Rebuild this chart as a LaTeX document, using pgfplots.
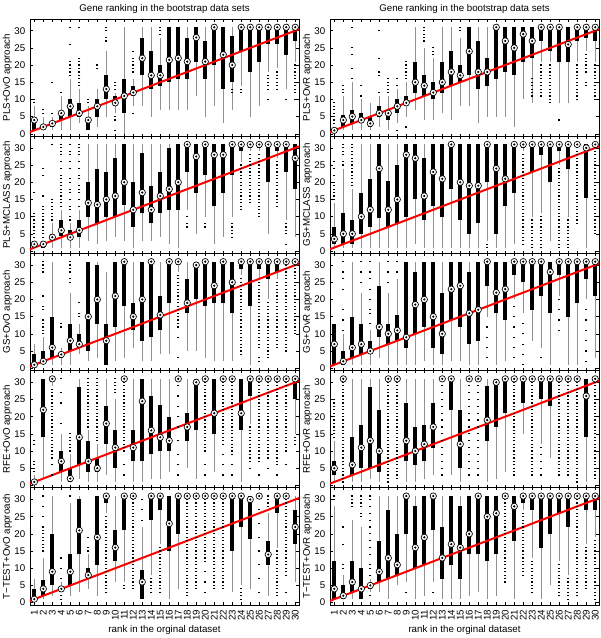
\documentclass[border=0pt]{standalone}
\usepackage{fontspec}
\setmainfont{Liberation Sans}
\usepackage{pgfplots}
\usepackage{pgfplotstable}
\pgfplotsset{compat=1.18}
\definecolor{whisk}{RGB}{145,145,145}
\newcommand\fs{\fontsize{7.3}{8.5}\selectfont}

% columns: x lw q1 med q3 uw
\pgfplotstableread{
x lw q1 med q3 uw
1 1 1 4 4 8
2 1 1.5 2 2.5 5
3 1 2 3 3.5 5
4 1 4 6 6.5 11
5 1 5 8 10 16
6 3 5 6 9 13
7 1 1 4 4.5 8
8 2 5 8 10 13
9 5 10 13 17 24
10 6 8 9 11 12
11 0 6 11 16 31
12 8 11 12 14 16
13 8 17 22 28 31
14 5 13 17 24 31
15 7 14 17 20 28
16 7 15 21.5 31 31
17 7 16 22 31 31
18 7 16 21 28 31
19 11 21 28 31 31
20 5 16 21 27 31
21 8 20 31 31 31
22 3 13 23 31 31
23 7 15 20 28.5 31
24 14 24 31 31 31
25 5 18 31 31 31
26 8 21 31 31 31
27 18 26 31 31 31
28 19 26 31 31 31
29 13 23 31 31 31
30 21 27 31 31 31
}\tA
\pgfplotstableread{
x lw q1 med q3 uw
1 1 1 2 3 3
2 1 1 2 3 3
3 1 3 4 5 8
4 1 4.5 6 9 12
5 1 3.5 4 6 8
6 1 4 6 9 12
7 3 10 14 20 31
8 2 8 13.5 24 31
9 3 10 15 23 31
10 4 10 16 27 31
11 3 13.5 20 31 31
12 1 7 12 20 31
13 3 11 17 28.5 31
14 3 8 12 19 31
15 4 11 16 23 31
16 2 12 18 30 31
17 1 12 20 31 31
18 12 23 31 31 31
19 5 17 27.5 31 31
20 10 22 31 31 31
21 2 13 28 31 31
22 4 17 28 31 31
23 10 22 31 31 31
24 26 29 31 31 31
25 29 30 31 31 31
26 29 30 31 31 31
27 5 20 31 31 31
28 27 29 31 31 31
29 9 23 31 31 31
30 4 18 27 31 31
}\tB
\pgfplotstableread{
x lw q1 med q3 uw
1 1 1 1 4 7
2 1 2 2 5 9
3 1 3 6 15 31
4 1 3 4 4.5 6
5 1 5 8 13 22
6 4 6 7 10 13
7 2 5 15 31 31
8 3 13 20 30 31
9 1 1 8 13 28
10 2 12 21 31 31
11 3 18 31 31 31
12 6 11 15 19 31
13 2 8 20 31 31
14 2 9 31 31 31
15 4 11 15.5 21 31
16 4 19 31 31 31
17 28 30 31 31 31
18 5 16 19 26 31
19 5 20 30 31 31
20 3 18 31 31 31
21 2 19 24 31 31
22 2 19 31 31 31
23 2 16 25 31 31
24 27 29 31 31 31
25 1 18 31 31 31
26 26 29 31 31 31
27 20 26 31 31 31
28 26 28 31 31 31
29 31 31 31 31 31
30 31 31 31 31 31
}\tC
\pgfplotstableread{
x lw q1 med q3 uw
1 0 0.5 1 1.5 3
2 2 14 22 31 31
3 29 30 31 31 31
4 1 4 7 10 15
5 1 1 2 5 9
6 2 6 14 28.5 31
7 1 4 7 13 16
8 1 4 5 8 12
9 3 12 18 23 31
10 1 5 11 16 25
11 31 31 31 31 31
12 1 7 11 16 31
13 1 7 24.5 31 31
14 2 9 16 26 31
15 2 10 14 23.5 31
16 4 10 13 20 31
17 31 31 31 31 31
18 5 13 17 21 31
19 2 16 30 31 31
20 31 31 31 31 31
21 4 15 21 31 31
22 31 31 31 31 31
23 31 31 31 31 31
24 1 16 21 31 31
25 18 26 31 31 31
26 31 31 31 31 31
27 31 31 31 31 31
28 31 31 31 31 31
29 31 31 31 31 31
30 15 25 31 31 31
}\tD
\pgfplotstableread{
x lw q1 med q3 uw
1 1 1 1 1.5 2
2 1 2 4 5.5 11
3 1 3 5 7 15
4 1 3 4 6 10
5 1 2 3 5 9
6 2 5 6 8 11
7 1 4 6 7 11
8 3 6 8 10 13
9 5 8 9 11 15
10 7 12 15 21 31
11 4 11 14 17 25
12 4 10 12 15 22
13 6 12 15 21 31
14 4 14 18 24 31
15 8 15 17 20 28
16 8 17 24 31 31
17 3 13 18 27 31
18 5 14 18 22 31
19 5 16 31 31 31
20 5 18 27 31 31
21 2 17 25 31 31
22 10 21 29 31 31
23 9 22 27 31 31
24 21 27 31 31 31
25 21 24 31 31 31
26 9 21 31 31 31
27 9 21 26 31 31
28 21 27 31 31 31
29 24 28 31 31 31
30 21 27 31 31 31
}\tE
\pgfplotstableread{
x lw q1 med q3 uw
1 1 2 3.5 7 14
2 1 2 5 11 24
3 1 2 5 9 18
4 1 5 10 17 31
5 1 7 12 21 31
6 1 9.5 24 31 31
7 1 7 12 20.5 31
8 1 8 15 25 31
9 1 10 28 31 31
10 2 15 27 31 31
11 1 9 16 27 31
12 1 13 23 31 31
13 1 10 21 31 31
14 1 18 31 31 31
15 1 9 20 31 31
16 1 5 19 31 31
17 1 8 19 31 31
18 3 20 31 31 31
19 1 5 24 31 31
20 1 13 21 31 31
21 2 17 31 31 31
22 29 30 31 31 31
23 10 23 31 31 31
24 11 28 31 31 31
25 3 20 31 31 31
26 25 29 31 31 31
27 10 24 31 31 31
28 31 31 31 31 31
29 1 15.5 30 31 31
30 31 31 31 31 31
}\tF
\pgfplotstableread{
x lw q1 med q3 uw
1 1 1 7 13 13
2 1 1 2 5 10
3 1 3 6 15 31
4 1 4 7 13 22
5 1 4 5 8 11
6 3 9 12 24 31
7 1 7 10 13 22
8 1 8 11 15.5 26
9 1 6 9 31 31
10 1 10 18.5 28 31
11 2 12 20 31 31
12 1 6 15 31 31
13 1 4 10 22 31
14 2 14 23 31 31
15 2 12 24 31 31
16 1 7 16 28 31
17 1 8 17 31 31
18 15 24 31 31 31
19 1 16 22 31 31
20 2 14 23 31 31
21 20 27 31 31 31
22 16 25 31 31 31
23 8 17 31 31 31
24 6 21 31 31 31
25 1 16 28 31 31
26 21 27 31 31 31
27 1 15 31 31 31
28 1 19 31 31 31
29 20 26 31 31 31
30 3 21 31 31 31
}\tG
\pgfplotstableread{
x lw q1 med q3 uw
1 1 3 5 7 13
2 31 31 31 31 31
3 1 3 6 14 31
4 1 5 11 17.5 31
5 2 5 13 28.5 31
6 1 4 10 22 31
7 31 31 31 31 31
8 31 31 31 31 31
9 1 7 13 24 31
10 1 6 10 17 31
11 2 7 12 17.5 31
12 3 11 17 24 31
13 31 31 31 31 31
14 3 22 31 31 31
15 1 5 12 22 31
16 31 31 31 31 31
17 31 31 31 31 31
18 1 13 19 29 31
19 2 17 30 31 31
20 4 21 31 31 31
21 31 31 31 31 31
22 15 24 31 31 31
23 31 31 31 31 31
24 12 25 31 31 31
25 8 23 31 31 31
26 31 31 31 31 31
27 31 31 31 31 31
28 31 31 31 31 31
29 1 14 26 31 31
30 31 31 31 31 31
}\tH
\pgfplotstableread{
x lw q1 med q3 uw
1 1 1 1 4 7
2 1 2 4 6.5 13
3 2 5 9 20 31
4 3 3 4 4.5 6
5 2 5 9 14 29
6 3 14 21 30 31
7 4 7 8 10 14
8 2 11 19 31 31
9 26 29 31 31 31
10 6 12 16 21 31
11 6 21 31 31 31
12 31 31 31 31 31
13 1 1 6 9.5 22
14 8 24 31 31 31
15 17 27 31 31 31
16 1 15 23 31 31
17 4 20 31 31 31
18 31 31 31 31 31
19 31 31 31 31 31
20 31 31 31 31 31
21 31 31 31 31 31
22 31 31 31 31 31
23 3 15 31 31 31
24 5 22 31 31 31
25 4 18.5 30 31 31
26 31 31 31 31 31
27 2 11 14 18 26
28 16 26 31 31 31
29 31 31 31 31 31
30 6 17 22 27 31
}\tI
\pgfplotstableread{
x lw q1 med q3 uw
1 1 1 4 12 28
2 1 1 2 5 8
3 1 3 6 12 24
4 1 1 4 10 22
5 3 4 5 5.5 7
6 3 6 9 18 31
7 1 7 13 27 31
8 5 8 11 20 31
9 6 20 31 31 31
10 1 10 16 28 31
11 2 11 19 31 31
12 6 21 31 31 31
13 1 7 13 22 31
14 1 11 17 31 31
15 1 7 16 28 31
16 2 14 20 31 31
17 3 14 31 31 31
18 1 12 25 31 31
19 2 14 26 31 31
20 31 31 31 31 31
21 1 18 28 31 31
22 27 29 31 31 31
23 13 27 31 31 31
24 1 16 31 31 31
25 5 20 31 31 31
26 12 26 31 31 31
27 8 22 31 31 31
28 31 31 31 31 31
29 17 27 31 31 31
30 19 27 31 31 31
}\tJ

\pgfplotsset{
  panel/.style={
    scale only axis, width=201.75pt, height=87.9pt,
    xmin=0.52, xmax=30.42, ymin=-0.7, ymax=33.4,
    xtick={1,...,30}, ytick={0,5,...,30},
    tick align=inside, major tick length=2pt,
    tick style={black, line width=0.4pt},
    axis line style={line width=0.6pt},
    tick label style={font=\fs},
    label style={font=\fs},
    title style={font=\fs, yshift=-5.5pt},
    ylabel style={yshift=-5pt},
    /pgf/number format/assume math mode=true,
    anchor=north west,
  },
  bottom/.style={
    xticklabel style={rotate=90, anchor=east, font=\fs, xshift=0pt},
    xlabel={rank in the orginal dataset},
    xlabel style={yshift=3pt},
  },
  nox/.style={xticklabels={}},
}

\newcommand{\panel}[6]{%
\begin{axis}[panel, at={(#1,#2)}, ylabel={#4}, #6]
\addplot[draw=none, mark=none, forget plot, error bars/.cd, y dir=plus, y explicit, error mark=none,
  error bar style={draw=whisk, line width=0.75pt}]
  table[x=x, y=lw, y error expr=\thisrow{uw}-\thisrow{lw}] {#3};
\addplot[draw=none, mark=none, forget plot, error bars/.cd, y dir=plus, y explicit, error mark=none,
  error bar style={draw=black, line width=3pt}]
  table[x=x, y=q1, y error expr=\thisrow{q3}-\thisrow{q1}] {#3};
\addplot[only marks, mark=-, mark size=0.75pt, mark options={line width=0.9pt}, black] coordinates {#5};
\addplot[red, line width=1.5pt, mark=none] coordinates {(0,0) (31,31)};
\addplot[only marks, mark=*, mark size=2.4pt, mark options={fill=white, draw=black, line width=0.5pt}] table[x=x, y=med] {#3};
\addplot[only marks, mark=*, mark size=0.6pt, black] table[x=x, y=med] {#3};
\end{axis}}

\begin{document}
\begin{tikzpicture}
\path[use as bounding box] (0,0) rectangle (450pt,-478.5pt);

\panel{22.5pt}{-14.25pt}{\tA}{PLS+OvO approach}{(1,9)(1,10)(2,6)(2,7)(3,6)(3,15)(4,12)(5,17)(5,18)(5,19)(5,20)(5,21)(5,26)(5,31)(6,14)(6,15)(6,16)(6,17)(6,18)(6,19)(6,20)(6,21)(6,22)(6,31)(7,9)(7,10)(8,19)(8,20)(9,27)(9,28)(9,30)(9,31)(10,1)(10,4)(10,5)(10,13)(10,14)(10,15)(12,6)(12,18)(12,19)(12,20)(12,21)(12,22)(12,24)(15,29)(15,30)(15,31)(23,12)(23,13)(24,12)(24,13)(27,10)(27,13)(27,14)(27,15)(27,16)(27,17)(28,13)(28,14)(28,15)(28,16)(28,17)(28,18)(29,10)(30,10)(30,12)(30,13)(30,14)(30,15)(30,16)(30,17)(30,18)(30,19)(30,20)}{nox, title={Gene ranking in the bootstrap data sets}}

\panel{22.5pt}{-102.15pt}{\tB}{PLS+MCLASS approach}{(1,4)(1,5)(1,6)(1,7)(1,8)(1,9)(1,10)(1,11)(1,17)(2,4)(2,5)(2,6)(2,7)(2,8)(2,9)(2,10)(2,11)(2,12)(2,13)(2,16)(2,22)(2,24)(3,9)(3,10)(3,11)(3,12)(3,13)(3,14)(3,15)(3,31)(4,13)(4,14)(4,15)(4,16)(4,17)(4,18)(4,19)(4,20)(4,21)(4,22)(4,24)(4,26)(4,28)(4,29)(4,30)(4,31)(5,9)(5,10)(5,12)(5,13)(5,15)(5,17)(5,18)(5,20)(5,21)(5,24)(5,26)(5,28)(5,29)(5,31)(6,13)(6,15)(6,17)(6,18)(6,19)(6,21)(6,22)(6,24)(6,26)(6,28)(6,29)(6,30)(6,31)(18,7)(18,8)(18,10)(20,7)(20,8)(23,4)(23,5)(23,6)(23,7)(23,8)(24,12)(24,13)(24,14)(24,15)(24,16)(24,17)(24,18)(24,19)(24,20)(24,21)(24,22)(24,23)(24,24)(24,25)(25,14)(25,15)(25,16)(25,17)(25,18)(25,19)(25,20)(25,21)(25,22)(25,23)(25,24)(25,25)(25,26)(25,27)(25,28)(26,10)(26,11)(26,12)(26,13)(26,14)(26,15)(26,16)(26,17)(26,18)(26,19)(26,20)(26,21)(26,22)(26,23)(26,24)(26,25)(26,26)(26,27)(26,28)(28,13)(28,14)(28,15)(28,16)(28,17)(28,18)(28,19)(28,20)(28,21)(28,22)(28,23)(28,24)(28,25)(28,26)(29,2)(29,5)(29,6)(29,7)(29,8)}{nox}

\panel{22.5pt}{-190.05pt}{\tC}{GS+OvO approach}{(2,10)(2,11)(2,12)(2,13)(2,14)(2,17)(2,18)(2,21)(2,28)(2,29)(2,30)(2,31)(4,12)(4,13)(5,25)(5,26)(5,28)(5,29)(5,30)(5,31)(6,15)(6,16)(6,19)(17,3)(17,9)(17,12)(17,13)(17,14)(17,15)(17,16)(17,17)(17,18)(17,19)(17,20)(17,21)(17,22)(17,23)(17,24)(17,25)(17,26)(17,27)(24,4)(24,5)(24,6)(24,7)(24,8)(24,9)(24,10)(24,11)(24,12)(24,13)(24,14)(24,15)(24,16)(24,17)(24,18)(24,19)(24,20)(24,21)(24,22)(24,23)(24,24)(24,25)(24,26)(26,2)(26,3)(26,6)(26,7)(26,8)(26,9)(26,10)(26,11)(26,12)(26,13)(26,14)(26,15)(26,16)(26,17)(26,18)(26,19)(26,20)(26,21)(26,22)(26,23)(26,24)(26,25)(27,3)(27,4)(27,5)(27,6)(27,7)(27,8)(27,9)(27,10)(27,11)(27,12)(27,13)(27,14)(27,15)(27,16)(27,17)(27,18)(27,19)(28,6)(28,7)(28,8)(28,9)(28,10)(28,11)(28,12)(28,13)(28,14)(28,15)(28,16)(28,17)(28,18)(28,19)(28,20)(28,21)(28,22)(28,23)(28,24)(28,25)(29,5)(29,6)(29,7)(29,8)(29,9)(29,10)(29,11)(29,12)(29,13)(29,14)(29,15)(29,16)(29,17)(29,18)(29,19)(29,20)(29,21)(29,22)(29,23)(29,24)(29,25)(29,26)(29,27)(29,28)(29,29)(29,30)(30,10)(30,11)(30,12)(30,13)(30,14)(30,15)(30,16)(30,17)(30,18)(30,19)(30,20)(30,21)(30,22)(30,23)(30,24)(30,25)(30,26)(30,27)(30,28)(30,29)(30,30)}{nox}

\panel{22.5pt}{-277.95pt}{\tD}{RFE+OvO approach}{(1,4)(1,5)(1,6)(1,7)(1,12)(1,13)(3,3)(3,6)(3,8)(3,9)(3,10)(3,11)(3,12)(3,13)(3,14)(3,15)(3,16)(3,17)(3,18)(3,19)(3,20)(3,21)(3,22)(3,23)(3,24)(3,25)(3,26)(3,27)(3,28)(4,18)(4,24)(4,27)(4,31)(5,10)(5,11)(5,12)(5,13)(5,14)(5,15)(7,17)(7,18)(7,19)(7,20)(7,21)(7,22)(7,23)(7,24)(7,25)(7,26)(7,27)(7,28)(7,29)(7,30)(7,31)(8,13)(8,14)(8,15)(8,16)(8,17)(8,18)(8,19)(8,20)(8,21)(8,22)(8,23)(8,24)(8,25)(8,26)(8,27)(8,28)(8,29)(8,30)(8,31)(10,27)(10,28)(10,29)(10,30)(10,31)(11,3)(11,6)(11,10)(11,11)(11,12)(11,13)(11,14)(11,15)(11,16)(11,17)(11,18)(11,19)(11,20)(11,21)(11,22)(11,23)(11,24)(11,25)(11,26)(11,27)(11,28)(11,29)(11,30)(17,3)(17,6)(17,9)(17,13)(17,17)(17,20)(17,23)(17,26)(17,29)(20,3)(20,6)(20,10)(20,11)(20,12)(20,13)(20,14)(20,15)(20,16)(20,17)(20,18)(20,19)(20,20)(20,21)(20,22)(20,23)(20,24)(20,25)(20,26)(20,27)(20,28)(20,29)(20,30)(22,3)(22,6)(22,9)(22,12)(22,13)(22,14)(22,15)(22,16)(22,17)(22,18)(22,19)(22,20)(22,21)(22,22)(22,23)(22,24)(22,25)(22,26)(22,27)(22,28)(22,29)(22,30)(23,3)(23,6)(23,9)(23,10)(23,11)(23,12)(23,13)(23,14)(23,15)(23,16)(23,17)(23,18)(23,19)(23,20)(23,21)(23,22)(23,23)(23,24)(23,25)(23,26)(23,27)(23,28)(23,29)(23,30)(25,5)(25,7)(25,8)(25,9)(25,10)(25,11)(25,12)(25,13)(25,14)(25,15)(25,16)(25,17)(26,3)(26,7)(26,8)(26,9)(26,10)(26,11)(26,12)(26,13)(26,14)(26,15)(26,16)(26,17)(26,18)(26,19)(26,20)(26,21)(26,22)(26,23)(26,24)(26,25)(26,26)(26,27)(26,28)(26,29)(26,30)(27,5)(27,8)(27,9)(27,10)(27,11)(27,12)(27,13)(27,14)(27,15)(27,16)(27,17)(27,18)(27,19)(27,20)(27,21)(27,22)(27,23)(27,24)(27,25)(27,26)(27,27)(27,28)(27,29)(27,30)(28,3)(28,6)(28,7)(28,8)(28,9)(28,10)(28,11)(28,12)(28,13)(28,14)(28,15)(28,16)(28,17)(28,18)(28,19)(28,20)(28,21)(28,22)(28,23)(28,24)(28,25)(28,26)(28,27)(28,28)(28,29)(28,30)(29,6)(29,10)(29,11)(29,12)(29,13)(29,14)(29,15)(29,16)(29,17)(29,18)(29,19)(29,20)(29,21)(29,22)(29,23)(29,24)(29,25)(29,26)(29,27)(29,28)(29,29)(29,30)(30,12)(30,13)(30,14)}{nox}

\panel{22.5pt}{-365.85pt}{\tI}{T−TEST+OvO approach}{(2,15)(2,16)(2,17)(2,18)(2,19)(2,20)(2,21)(2,22)(2,25)(2,28)(2,31)(4,1)(4,2)(4,7)(4,10)(4,13)(5,31)(7,15)(7,16)(7,19)(9,3)(9,4)(9,5)(9,6)(9,7)(9,8)(9,9)(9,10)(9,11)(9,12)(9,13)(9,14)(9,15)(9,16)(9,17)(9,18)(9,19)(9,20)(9,21)(9,22)(9,23)(9,24)(9,25)(11,4)(11,5)(12,4)(12,5)(12,6)(12,7)(12,8)(12,9)(12,10)(12,11)(12,12)(12,13)(12,14)(12,15)(12,16)(12,17)(12,18)(12,19)(12,20)(12,21)(12,22)(12,23)(12,24)(12,25)(12,26)(12,27)(12,28)(12,29)(12,30)(13,24)(13,27)(13,30)(14,3)(14,4)(14,5)(14,6)(14,7)(15,3)(15,4)(15,5)(15,6)(15,7)(15,8)(15,9)(15,10)(15,11)(15,12)(15,13)(15,14)(15,15)(15,16)(18,2)(18,3)(18,4)(18,5)(18,6)(18,7)(18,8)(18,9)(18,10)(18,11)(18,12)(18,13)(18,14)(18,15)(18,16)(18,17)(18,18)(18,19)(18,20)(18,21)(18,22)(18,23)(18,24)(18,25)(18,26)(18,27)(18,28)(18,29)(18,30)(19,4)(19,5)(19,6)(19,7)(19,8)(19,9)(19,10)(19,11)(19,12)(19,13)(19,14)(19,15)(19,16)(19,17)(19,18)(19,19)(19,20)(19,21)(19,22)(19,23)(19,24)(19,25)(19,26)(19,27)(19,28)(19,29)(19,30)(20,3)(20,6)(20,9)(20,12)(20,13)(20,14)(20,15)(20,16)(20,17)(20,18)(20,19)(20,20)(20,21)(20,22)(20,23)(20,24)(20,25)(20,26)(20,27)(20,28)(20,29)(20,30)(21,4)(21,5)(21,6)(21,7)(21,8)(21,9)(21,10)(21,11)(21,12)(21,13)(21,14)(21,15)(21,16)(21,17)(21,18)(21,19)(21,20)(21,21)(21,22)(21,23)(21,24)(21,25)(21,26)(21,27)(21,28)(21,29)(21,30)(22,4)(22,5)(22,6)(22,7)(22,8)(22,9)(22,10)(22,11)(22,12)(22,13)(22,14)(22,15)(22,16)(22,17)(22,18)(22,19)(22,20)(22,21)(22,22)(22,23)(22,24)(22,25)(22,26)(22,27)(22,28)(22,29)(22,30)(24,1)(24,2)(24,3)(24,4)(26,3)(26,7)(26,11)(26,15)(26,19)(26,23)(26,27)(27,28)(27,29)(27,30)(27,31)(28,2)(28,3)(28,4)(28,5)(28,6)(28,7)(28,8)(28,9)(28,10)(28,11)(28,12)(28,13)(28,14)(28,15)(29,3)(29,8)(29,9)(29,10)(29,11)(29,12)(29,13)(29,14)(29,15)(29,16)(29,17)(29,18)(29,19)(29,20)(29,21)(29,22)(29,23)(29,24)(29,25)(29,26)(29,27)(29,28)(29,29)(29,30)}{bottom}

\panel{247.5pt}{-14.25pt}{\tE}{PLS+OvR approach}{(1,3)(1,4)(1,5)(1,6)(1,7)(1,8)(1,9)(2,12)(2,13)(2,14)(3,16)(3,19)(3,23)(3,25)(3,31)(4,11)(4,14)(6,12)(6,17)(6,18)(6,22)(6,30)(7,12)(7,13)(7,14)(7,15)(7,16)(8,1)(8,14)(8,16)(9,2)(9,16)(9,17)(9,18)(9,19)(9,20)(9,21)(11,27)(11,28)(11,29)(11,30)(11,31)(12,23)(12,24)(12,25)(15,30)(15,31)(23,11)(23,12)(23,13)(23,14)(23,15)(23,16)(24,11)(24,12)(24,13)(24,14)(24,15)(24,16)(24,17)(24,18)(24,19)(24,20)(25,9)(25,10)(25,11)(25,12)(25,13)(25,14)(25,15)(25,16)(25,17)(25,18)(25,19)(25,20)(26,4)(28,10)(28,11)(28,12)(28,13)(28,14)(28,15)(28,16)(28,17)(28,18)(28,19)(28,20)(29,14)(29,15)(29,18)(29,19)(29,20)(29,21)(29,22)(29,23)(30,10)(30,11)(30,12)(30,13)(30,14)(30,15)(30,16)(30,17)(30,18)(30,19)(30,20)}{nox, title={Gene ranking in the bootstrap data sets}}

\panel{247.5pt}{-102.15pt}{\tF}{GS+MCLASS approach}{(1,15)(1,16)(1,17)(1,18)(1,19)(1,20)(1,22)(1,24)(1,26)(2,25)(2,26)(2,28)(2,29)(2,30)(2,31)(3,19)(3,20)(3,21)(3,22)(3,23)(3,24)(3,25)(3,26)(3,27)(3,28)(3,29)(3,30)(3,31)(18,1)(18,2)(22,2)(22,3)(22,4)(22,5)(22,6)(22,7)(22,8)(22,9)(22,10)(22,11)(22,12)(22,13)(22,14)(22,15)(22,16)(22,17)(22,18)(22,19)(22,20)(22,21)(22,22)(22,23)(22,24)(22,25)(22,26)(22,27)(22,28)(23,1)(23,2)(23,3)(23,4)(23,5)(23,6)(23,7)(23,8)(23,9)(24,1)(24,2)(24,3)(24,4)(24,5)(24,6)(24,7)(24,8)(24,9)(24,10)(26,1)(26,2)(26,3)(26,4)(26,5)(26,6)(26,7)(26,8)(26,9)(26,10)(26,11)(26,12)(26,13)(26,14)(26,15)(26,16)(26,17)(26,18)(26,19)(26,20)(26,21)(26,22)(26,23)(26,24)(27,1)(27,2)(27,3)(27,4)(27,5)(27,6)(27,7)(27,8)(27,9)(28,8)(28,9)(28,10)(28,11)(28,12)(28,13)(28,14)(28,15)(28,16)(28,17)(28,18)(28,19)(28,20)(28,21)(28,22)(28,23)(28,24)(28,25)(28,26)(28,27)(28,28)(28,29)(28,30)(30,5)(30,6)(30,7)(30,8)(30,9)(30,10)(30,11)(30,12)(30,13)(30,14)(30,15)(30,16)(30,17)(30,18)(30,19)(30,20)(30,21)(30,22)(30,23)(30,24)(30,25)(30,26)(30,27)(30,28)(30,29)(30,30)}{nox}

\panel{247.5pt}{-190.05pt}{\tG}{GS+OvR approach}{(2,11)(2,14)(2,17)(2,23)(2,26)(2,28)(2,31)(4,25)(4,28)(4,31)(5,13)(5,16)(5,17)(5,20)(5,23)(5,26)(5,28)(5,31)(7,25)(7,28)(7,31)(8,28)(8,31)(18,3)(18,6)(18,9)(18,12)(21,3)(21,6)(21,9)(21,12)(21,15)(21,18)(22,1)(22,4)(22,7)(22,10)(22,13)(24,3)(26,11)(26,14)(26,17)(26,20)(29,2)(29,5)(29,8)(29,11)(29,14)(29,17)}{nox}

\panel{247.5pt}{-277.95pt}{\tH}{RFE+OvR approach}{(1,14)(1,15)(1,16)(1,17)(1,18)(1,19)(1,20)(1,21)(1,22)(1,23)(1,24)(1,25)(2,1)(2,2)(2,3)(2,4)(2,5)(2,6)(2,7)(2,8)(2,9)(2,10)(2,11)(2,12)(2,13)(2,14)(2,15)(2,16)(2,17)(2,18)(2,19)(2,20)(2,21)(2,22)(2,23)(2,24)(2,25)(2,26)(2,27)(2,28)(2,29)(2,30)(7,1)(7,2)(7,3)(7,4)(7,5)(7,6)(7,7)(7,8)(7,9)(7,10)(7,11)(7,12)(7,13)(7,14)(7,15)(7,16)(7,17)(7,18)(7,19)(7,20)(7,21)(7,22)(7,23)(7,24)(7,25)(7,26)(7,27)(7,28)(7,29)(7,30)(8,2)(8,3)(8,4)(8,5)(8,6)(8,7)(8,8)(8,9)(8,10)(8,11)(8,12)(8,13)(8,14)(8,15)(8,16)(8,17)(8,18)(8,19)(8,20)(8,21)(8,22)(8,23)(8,24)(8,25)(8,26)(8,27)(8,28)(8,29)(8,30)(13,3)(13,5)(13,7)(13,9)(13,11)(13,13)(13,15)(13,17)(13,19)(13,21)(13,23)(13,25)(13,27)(13,29)(16,3)(16,5)(16,7)(16,9)(16,11)(16,13)(16,15)(16,17)(16,19)(16,21)(16,23)(16,25)(16,27)(16,29)(17,3)(17,5)(17,7)(17,9)(17,11)(17,13)(17,15)(17,17)(17,19)(17,21)(17,23)(17,25)(17,27)(17,29)(21,3)(21,4)(21,5)(21,6)(21,7)(21,8)(21,9)(21,10)(21,11)(21,12)(21,13)(21,14)(21,15)(21,16)(21,17)(21,18)(21,19)(21,20)(21,21)(21,22)(21,23)(21,24)(21,25)(21,26)(21,27)(21,28)(21,29)(21,30)(23,3)(23,4)(23,5)(23,6)(23,7)(23,8)(23,9)(23,10)(23,11)(23,12)(23,13)(23,14)(23,15)(23,16)(23,17)(23,18)(23,19)(23,20)(23,21)(23,22)(23,23)(23,24)(23,25)(23,26)(23,27)(23,28)(23,29)(23,30)(24,3)(24,5)(24,7)(24,9)(24,11)(26,3)(26,4)(26,5)(26,6)(26,7)(26,8)(26,9)(26,10)(26,11)(26,12)(26,13)(26,14)(26,15)(26,16)(26,17)(26,18)(26,19)(26,20)(26,21)(26,22)(26,23)(26,24)(26,25)(26,26)(26,27)(26,28)(26,29)(26,30)(27,3)(27,4)(27,5)(27,6)(27,7)(27,8)(27,9)(27,10)(27,11)(27,12)(27,13)(27,14)(27,15)(27,16)(27,17)(27,18)(27,19)(27,20)(27,21)(27,22)(27,23)(27,24)(27,25)(27,26)(27,27)(27,28)(27,29)(27,30)(28,1)(28,2)(28,3)(28,4)(28,5)(28,6)(28,7)(28,8)(28,9)(28,10)(28,11)(28,12)(28,13)(28,14)(28,15)(28,16)(28,17)(28,18)(28,19)(28,20)(28,21)(28,22)(28,23)(28,24)(28,25)(28,26)(28,27)(28,28)(28,29)(28,30)(30,2)(30,3)(30,4)(30,5)(30,6)(30,7)(30,8)(30,9)(30,10)(30,11)(30,12)(30,13)(30,14)(30,15)(30,16)(30,17)(30,18)(30,19)(30,20)(30,21)(30,22)(30,23)(30,24)(30,25)(30,26)(30,27)(30,28)(30,29)(30,30)}{nox}

\panel{247.5pt}{-365.85pt}{\tJ}{T−TEST+OvR approach}{(1,30)(1,31)(2,10)(2,11)(2,17)(2,22)(3,28)(3,29)(3,30)(3,31)(4,25)(4,26)(4,28)(4,29)(4,30)(4,31)(5,2)(5,8)(5,10)(5,11)(5,14)(5,16)(5,18)(5,20)(5,22)(5,24)(5,26)(5,28)(5,30)(5,31)(9,3)(12,3)(20,6)(20,7)(20,8)(20,9)(20,10)(20,11)(20,12)(20,13)(20,14)(20,15)(20,16)(20,17)(20,18)(20,19)(20,20)(20,21)(20,22)(20,23)(20,24)(20,25)(20,26)(20,27)(20,28)(20,29)(20,30)(22,8)(22,9)(22,10)(22,11)(22,12)(22,13)(22,14)(22,15)(22,16)(22,17)(22,18)(22,19)(22,20)(22,21)(22,22)(22,23)(22,24)(22,25)(22,26)(23,3)(23,4)(23,5)(23,6)(23,7)(23,8)(23,9)(23,10)(23,11)(23,12)(26,2)(26,3)(26,4)(26,5)(26,6)(26,7)(26,8)(26,9)(26,10)(26,11)(27,1)(27,2)(27,3)(27,4)(27,5)(27,6)(27,7)(28,2)(28,3)(28,4)(28,5)(28,6)(28,7)(28,8)(28,9)(28,10)(28,11)(28,12)(28,13)(28,14)(28,15)(28,16)(28,17)(28,18)(28,19)(28,20)(28,21)(28,22)(28,23)(28,24)(28,25)(28,26)(28,27)(28,28)(28,29)(28,30)(29,4)(29,5)(29,6)(29,7)(29,8)(29,9)(29,10)(29,11)(29,12)(29,13)(29,14)(29,15)(29,16)(30,1)(30,2)(30,3)(30,4)(30,5)(30,6)(30,7)(30,8)(30,9)(30,10)(30,11)(30,12)(30,13)(30,14)(30,15)(30,16)(30,17)(30,18)}{bottom}

\end{tikzpicture}
\end{document}
